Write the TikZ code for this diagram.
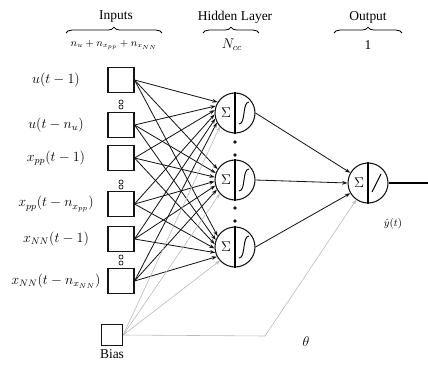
\documentclass[tikz,border=0pt]{standalone}
\usepackage{fontspec}
\setmainfont{Liberation Serif}
\usepackage{amsmath}
\usetikzlibrary{arrows.meta,positioning,calc,decorations.pathreplacing}
\definecolor{nnline}{RGB}{20,20,20}
\definecolor{nnbias}{RGB}{185,185,185}
\tikzset{
  inbox/.style={rectangle,draw=nnline,line width=0.9pt,minimum width=0.78cm,
                minimum height=0.75cm,inner sep=0pt},
  biasbox/.style={rectangle,draw=nnline,line width=0.9pt,minimum size=0.64cm,
                  inner sep=0pt},
  neuron/.style={circle,draw=nnline,line width=0.9pt,minimum size=1.2cm,
                 inner sep=0pt},
  conn/.style={-{Stealth[length=4.5pt,width=3.2pt]},line width=0.7pt,nnline},
  biasconn/.style={-{Stealth[length=4pt,width=3pt]},line width=0.5pt,nnbias},
  lbl/.style={font=\fontsize{11.5}{13}\selectfont,inner sep=1pt},
  topbrace/.style={decorate,decoration={brace,amplitude=5pt},line width=0.7pt},
  vdot/.style={circle,draw=nnline,line width=0.6pt,inner sep=0pt,minimum size=3.5pt},
  hdot/.style={circle,fill=nnline,inner sep=0pt,minimum size=3.2pt},
}

\begin{document}
\begin{tikzpicture}[x=0.03cm,y=-0.03cm]
  \useasboundingbox (0,0) rectangle (428,370);

  % input column
  \foreach \i/\y/\txt in {1/80/{$u(t-1)$},
                          2/125/{$u(t-n_u)$},
                          3/158/{$x_{pp}(t-1)$},
                          4/204/{$x_{pp}(t-n_{x_{pp}})$},
                          5/239/{$x_{NN}(t-1)$},
                          6/281/{$x_{NN}(t-n_{x_{NN}})$}}{
    \node[inbox] (in\i) at (121,\y) {};
    \node[lbl] (lab\i) at (56,\y) {\txt};
  }
  \node[biasbox] (bias) at (112,335) {};
  \node[lbl, below=2pt of bias] (biaslab) {Bias};

  % dots between inputs
  \foreach \y in {102,107,182,187,257,263}
    \node[vdot] at (121,\y) {};

  % hidden layer
  \foreach \j/\y in {1/113,2/180,3/247}{
    \node[neuron] (h\j) at (235,\y) {};
    \draw[line width=0.9pt] (h\j.north) -- (h\j.south);
    \node[font=\large] at ($(h\j)+(-9,0)$) {$\Sigma$};
    \draw[line width=0.8pt] ($(h\j)+(4,11)$) .. controls ($(h\j)+(11,11)$)
      and ($(h\j)+(7,-11)$) .. ($(h\j)+(14,-11)$);
  }
  \foreach \y in {142,155,208,221}
    \node[hdot] at (235,\y) {};

  % output neuron
  \node[neuron] (out) at (368,183) {};
  \draw[line width=0.9pt] (out.north) -- (out.south);
  \node[font=\large] at ($(out)+(-9,0)$) {$\Sigma$};
  \draw[line width=0.8pt] ($(out)+(4,9)$) -- ($(out)+(13,-9)$);
  \coordinate (yend) at (428,183);
  \node[font=\small] (ylab) at (393,224) {$\hat{y}(t)$};

  % connections
  \foreach \i in {1,...,6}
    \foreach \j in {1,2,3}{
      \pgfmathtruncatemacro{\ang}{148+(\i-1)*12}
      \draw[conn] (in\i.east) -- (h\j.\ang);
    }
  \foreach \j/\ang in {1/150,2/180,3/210}
    \draw[conn] (h\j.east) -- (out.\ang);
  \draw[line width=0.9pt] (out.east) -- (yend);

  % bias
  \coordinate (bend) at (265,336);
  \foreach \j in {1,2,3}
    \draw[biasconn] (bias.east) -- (h\j.222);
  \draw[biasconn] (bias.east) -- (bend) -- (out.235);
  \node[lbl] (theta) at (306,342) {$\theta$};

  % braces and headings
  \draw[topbrace] (66,33) -- (162,33);
  \draw[topbrace] (203,33) -- (259,33);
  \draw[topbrace] (334,33) -- (402,33);
  \node[lbl] (hin) at (116,17) {Inputs};
  \node[lbl] (hhid) at (235,17) {Hidden Layer};
  \node[lbl] (hout) at (368,17) {Output};
  \node[lbl,font=\small] (nin) at (114,45) {$n_u + n_{x_{pp}} + n_{x_{NN}}$};
  \node[lbl] (nhid) at (232,45) {$N_{cc}$};
  \node[lbl] (nout) at (368,45) {1};
\end{tikzpicture}
\end{document}
